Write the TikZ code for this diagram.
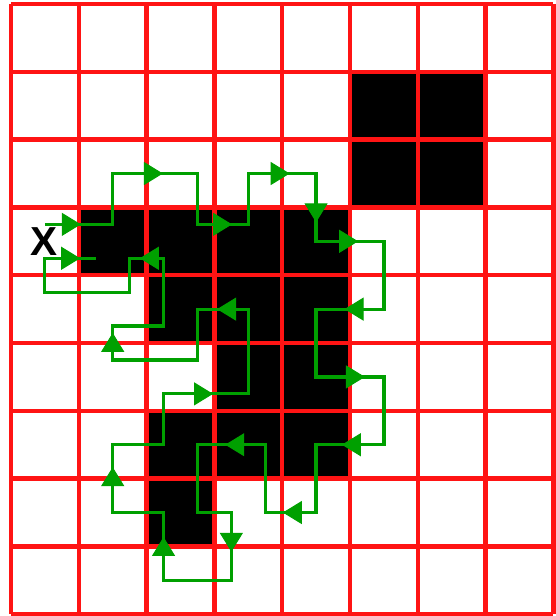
\documentclass[tikz,border=0pt]{standalone}
\usepackage{fontspec}
\setsansfont{Liberation Sans}
\usepackage{tikz}
\usetikzlibrary{arrows.meta}
\definecolor{gridred}{RGB}{255,20,20}
\definecolor{pathgreen}{RGB}{0,160,0}

\begin{document}
\begin{tikzpicture}[
  cell/.style={fill=black},
  gridline/.style={draw=gridred, line width=1.9pt},
  walk/.style={draw=pathgreen, line width=1.35pt, line join=miter},
  head/.style={draw=pathgreen, line width=0.4pt, -{Triangle[length=2.8mm,width=3.4mm]}, pathgreen}
]
\useasboundingbox (-0.162,0.059) rectangle (8.038,-9.026);
\fill[cell] (5,-1) rectangle (7,-3);
\fill[cell] (1,-3) rectangle (5,-4);
\fill[cell] (2,-4) rectangle (5,-5);
\fill[cell] (3,-5) rectangle (5,-6);
\fill[cell] (2,-6) rectangle (5,-7);
\fill[cell] (2,-7) rectangle (3,-8);
\draw[gridline] (0,0) grid (8,-9);
\node[font=\sffamily\bfseries\fontsize{17}{17}\selectfont, inner sep=0pt] (start) at (0.49,-3.51) {X};
\draw[walk] (0.5,-3.25) -- (1.5,-3.25) -- (1.5,-2.5) -- (2.75,-2.5) -- (2.75,-3.25) -- (3.5,-3.25)
  -- (3.5,-2.5) -- (4.5,-2.5) -- (4.5,-3.5) -- (5.5,-3.5) -- (5.5,-4.5) -- (4.5,-4.5)
  -- (4.5,-5.5) -- (5.5,-5.5) -- (5.5,-6.5) -- (4.5,-6.5) -- (4.5,-7.5) -- (3.75,-7.5)
  -- (3.75,-6.5) -- (2.75,-6.5) -- (2.75,-7.5) -- (3.25,-7.5) -- (3.25,-8.5) -- (2.25,-8.5)
  -- (2.25,-7.5) -- (1.5,-7.5) -- (1.5,-6.5) -- (2.25,-6.5) -- (2.25,-5.75) -- (3.5,-5.75)
  -- (3.5,-4.5) -- (2.75,-4.5) -- (2.75,-5.25) -- (1.5,-5.25) -- (1.5,-4.75) -- (2.25,-4.75)
  -- (2.25,-3.75) -- (1.75,-3.75) -- (1.75,-4.25) -- (0.5,-4.25) -- (0.5,-3.75) -- (1.25,-3.75);
\draw[head] (0.75,-3.25) -- (1.03,-3.25);
\draw[head] (1.96,-2.5) -- (2.24,-2.5);
\draw[head] (2.98,-3.25) -- (3.26,-3.25);
\draw[head] (3.83,-2.5) -- (4.11,-2.5);
\draw[head] (4.5,-2.94) -- (4.5,-3.22);
\draw[head] (4.84,-3.5) -- (5.12,-3.5);
\draw[head] (5.2,-4.5) -- (4.92,-4.5);
\draw[head] (4.94,-5.5) -- (5.22,-5.5);
\draw[head] (5.16,-6.5) -- (4.88,-6.5);
\draw[head] (4.29,-7.5) -- (4.01,-7.5);
\draw[head] (3.44,-6.5) -- (3.16,-6.5);
\draw[head] (3.25,-7.8) -- (3.25,-8.08);
\draw[head] (2.25,-8.14) -- (2.25,-7.86);
\draw[head] (1.5,-7.11) -- (1.5,-6.83);
\draw[head] (2.7,-5.75) -- (2.98,-5.75);
\draw[head] (3.32,-4.5) -- (3.04,-4.5);
\draw[head] (1.5,-5.13) -- (1.5,-4.85);
\draw[head] (2.18,-3.75) -- (1.9,-3.75);
\draw[head] (0.74,-3.75) -- (1.02,-3.75);
\end{tikzpicture}
\end{document}
